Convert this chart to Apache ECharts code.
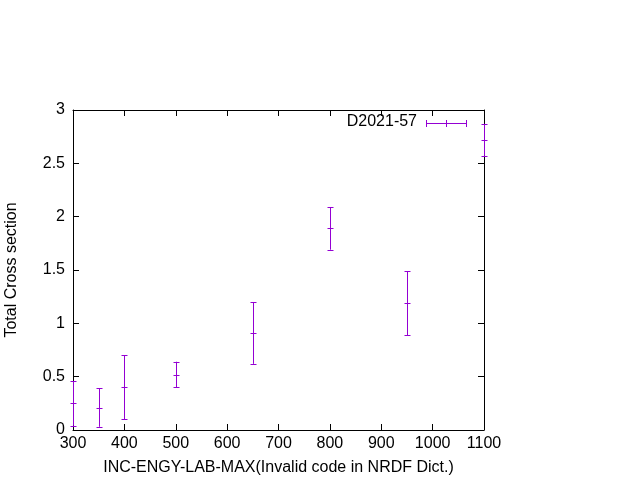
<!DOCTYPE html>
<html><head><meta charset="utf-8">
<script src="https://cdn.jsdelivr.net/npm/echarts@6/dist/echarts.min.js"></script>
<style>html,body{margin:0;padding:0;background:#fff}#c{width:640px;height:480px}</style>
</head><body><div id="c"></div>
<script>
const energies = [300, 350, 400, 500, 650, 800, 950, 1100];
const crossSections = [0.25, 0.21, 0.40, 0.52, 0.91, 1.89, 1.19, 2.72];
const errors = [0.21, 0.18, 0.30, 0.12, 0.29, 0.20, 0.30, 0.15];
const seriesName = 'D2021-57';
const xTicks = [300, 400, 500, 600, 700, 800, 900, 1000, 1100];
const yTicks = [0, 0.5, 1, 1.5, 2, 2.5, 3];

const color = '#9400d3';
const font = 'Liberation Sans';
const data = energies.map((e, i) => [e, crossSections[i], errors[i]]);

const chart = echarts.init(document.getElementById('c'), null, {renderer: 'canvas'});
const axisCommon = {
  type: 'value',
  axisLine: {show: true, onZero: false, lineStyle: {color: '#000', width: 1}},
  axisTick: {show: true, inside: true, length: 6, lineStyle: {color: '#000'}},
  splitLine: {show: false}
};
chart.setOption({
  animation: false,
  grid: {left: 73, right: 156, top: 110, bottom: 50, containLabel: false, outerBoundsMode: 'none'},
  xAxis: [
    Object.assign({}, axisCommon, {
      min: xTicks[0], max: xTicks[xTicks.length - 1], interval: 100, position: 'bottom',
      name: 'INC-ENGY-LAB-MAX(Invalid code in NRDF Dict.)', nameLocation: 'middle', nameGap: 30,
      nameTextStyle: {fontFamily: font, fontSize: 16, color: '#000'},
      axisLabel: {margin: 6, fontFamily: font, fontSize: 16, color: '#000', formatter: v => String(v)}
    }),
    Object.assign({}, axisCommon, {
      min: xTicks[0], max: xTicks[xTicks.length - 1], interval: 100, position: 'top',
      axisLabel: {show: false}
    })
  ],
  yAxis: [
    Object.assign({}, axisCommon, {
      min: yTicks[0], max: yTicks[yTicks.length - 1], interval: 0.5, position: 'left',
      name: 'Total Cross section', nameLocation: 'middle', nameGap: 53,
      nameTextStyle: {fontFamily: font, fontSize: 16, color: '#000'},
      axisLabel: {margin: 8, fontFamily: font, fontSize: 16, color: '#000', formatter: v => String(v)}
    }),
    Object.assign({}, axisCommon, {
      min: yTicks[0], max: yTicks[yTicks.length - 1], interval: 0.5, position: 'right',
      axisLabel: {show: false}
    })
  ],
  graphic: [
    {type: 'text', right: 640 - 417, top: 114, style: {text: seriesName, fontFamily: font, fontSize: 16, fill: '#000'}},
    {type: 'group', children: [
      {type: 'line', shape: {x1: 426, y1: 123.5, x2: 467, y2: 123.5}, style: {stroke: color, lineWidth: 1}},
      {type: 'line', shape: {x1: 426.5, y1: 120, x2: 426.5, y2: 127}, style: {stroke: color, lineWidth: 1}},
      {type: 'line', shape: {x1: 466.5, y1: 120, x2: 466.5, y2: 127}, style: {stroke: color, lineWidth: 1}},
      {type: 'line', shape: {x1: 446.5, y1: 120, x2: 446.5, y2: 127}, style: {stroke: color, lineWidth: 1}}
    ]}
  ],
  series: [{
    type: 'custom',
    name: seriesName,
    xAxisIndex: 0, yAxisIndex: 0,
    clip: false,
    data: data,
    renderItem: function (params, api) {
      const x = api.value(0), y = api.value(1), e = api.value(2);
      const c = api.coord([x, y]);
      const lo = api.coord([x, y - e]);
      const hi = api.coord([x, y + e]);
      const px = Math.round(c[0]) + 0.5;
      const w = 3;
      const st = {stroke: color, lineWidth: 1, fill: null};
      return {type: 'group', children: [
        {type: 'line', shape: {x1: px, y1: hi[1], x2: px, y2: lo[1]}, style: st},
        {type: 'line', shape: {x1: px - w, y1: Math.round(hi[1]) + 0.5, x2: px + w, y2: Math.round(hi[1]) + 0.5}, style: st},
        {type: 'line', shape: {x1: px - w, y1: Math.round(lo[1]) + 0.5, x2: px + w, y2: Math.round(lo[1]) + 0.5}, style: st},
        {type: 'line', shape: {x1: px - w, y1: Math.round(c[1]) + 0.5, x2: px + w, y2: Math.round(c[1]) + 0.5}, style: st}
      ]};
    }
  }]
});
</script></body></html>
